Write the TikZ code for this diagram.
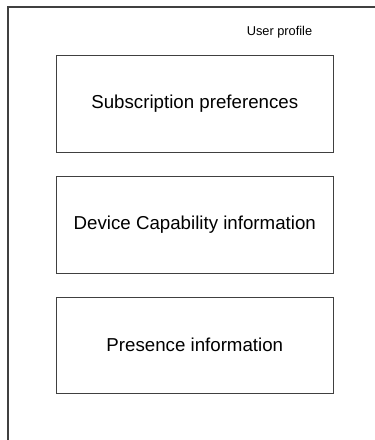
\documentclass[tikz,border=0pt]{standalone}
\usepackage{fontspec}
\setmainfont{Liberation Sans}
\begin{document}
\begin{tikzpicture}[x=1pt,y=-1pt,
  frame/.style={draw=black!75,line width=1.1pt},
  infobox/.style={frame,minimum width=277.5pt,minimum height=97pt,
    inner sep=0pt,font=\fontsize{18.7}{22}\selectfont,anchor=north west},
  caption/.style={font=\fontsize{12.8}{15}\selectfont}]
  \useasboundingbox (0,0) rectangle (375,440);
  \clip (0,0) rectangle (375,440);
  % profile container, running off the right and bottom edges
  \draw[frame] (8,7) rectangle (385,455);
  \node[caption] (title) at (279.5,32) {User profile};
  \node[infobox] (subs) at (55.5,55) {Subscription preferences};
  \node[infobox,minimum height=96.5pt] (device) at (55.5,176.2) {Device Capability information};
  \node[infobox,minimum height=96pt] (presence) at (55.5,296.7) {Presence information};
\end{tikzpicture}
\end{document}
